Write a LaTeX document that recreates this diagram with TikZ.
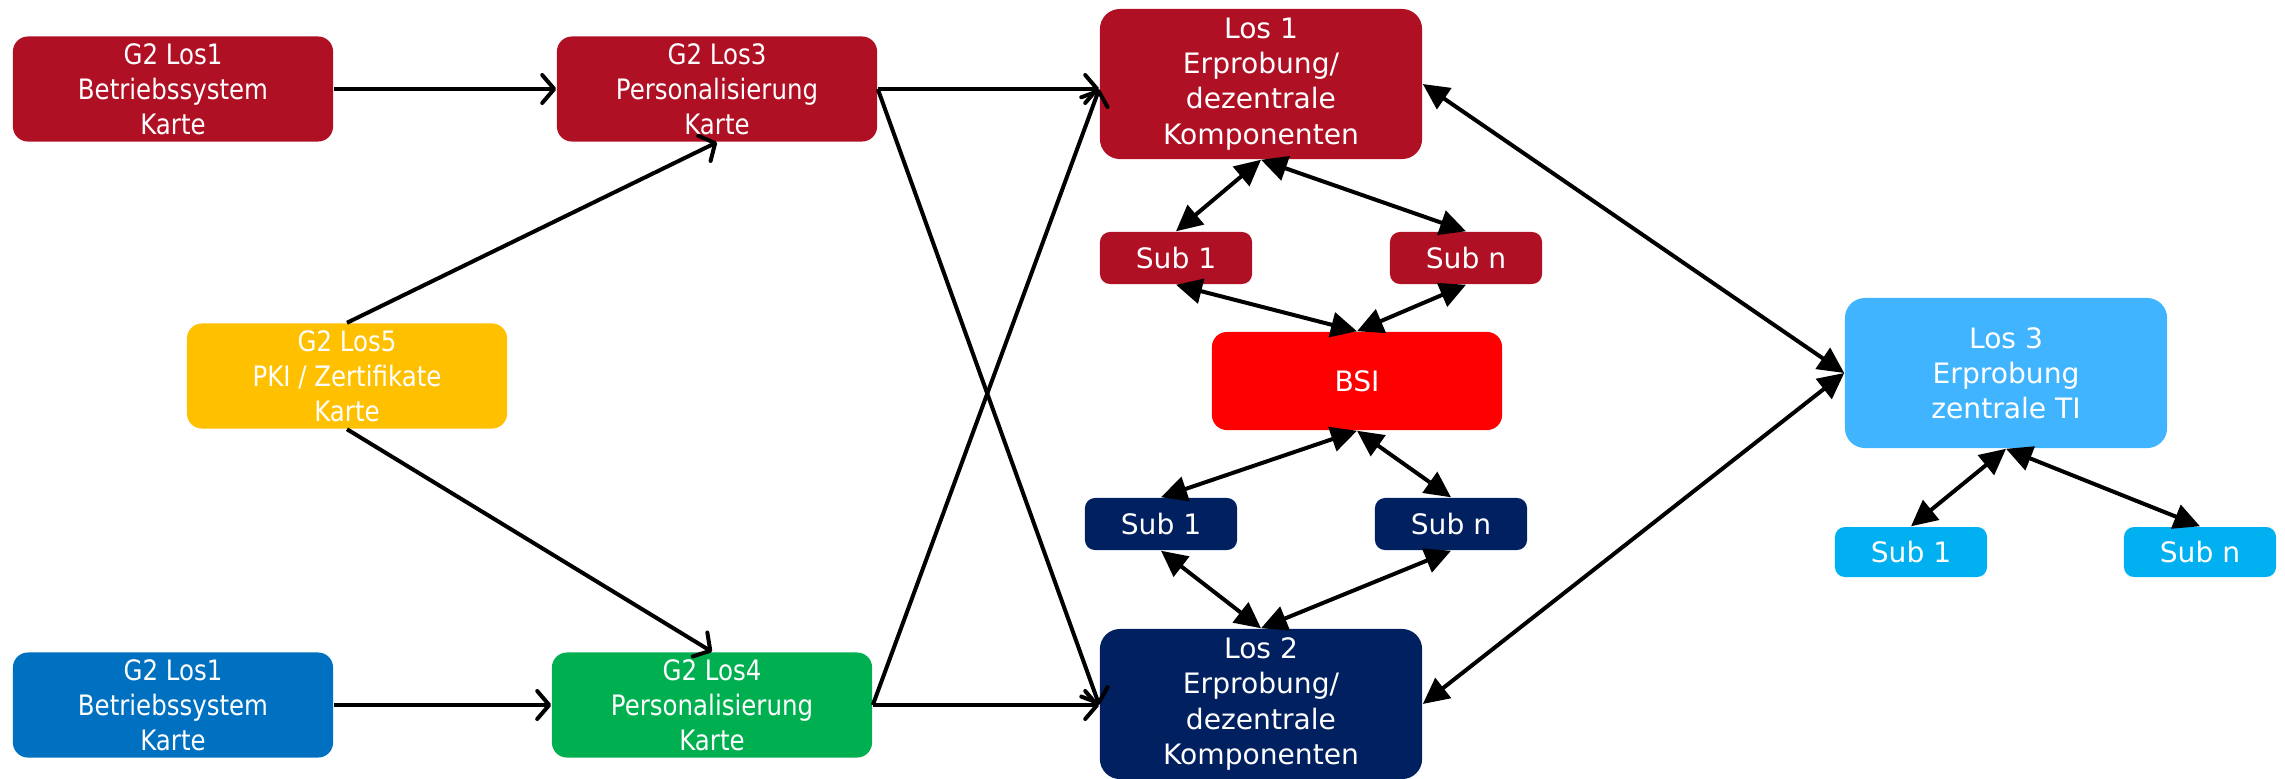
\documentclass[tikz,border=0pt]{standalone}
\usepackage{fontspec}
\setmainfont{DejaVu Sans}
\newfontfamily\narrowfont[FakeStretch=0.87]{DejaVu Sans}
\usetikzlibrary{arrows.meta}

\definecolor{losred}{HTML}{B01024}
\definecolor{losyellow}{HTML}{FFC000}
\definecolor{losblue}{HTML}{0070C0}
\definecolor{losgreen}{HTML}{00B050}
\definecolor{losnavy}{HTML}{002060}
\definecolor{bsired}{HTML}{FF0000}
\definecolor{tiblue}{HTML}{40B4FF}
\definecolor{subblue}{HTML}{00B0F0}

\tikzset{
  kartebox/.style={rounded corners=0.15cm, minimum width=3.2cm, minimum height=1.05cm,
    text=white, align=center, inner sep=0pt, font=\narrowfont\fontsize{8}{10}\selectfont},
  losbox/.style={rounded corners=0.2cm, minimum width=3.22cm, minimum height=1.5cm,
    text=white, align=center, inner sep=0pt, font=\fontsize{8}{10}\selectfont},
  subbox/.style={rounded corners=0.1cm, minimum width=1.52cm, minimum height=0.52cm,
    text=white, inner sep=0pt, font=\fontsize{8}{10}\selectfont},
  flow/.style={-{Straight Barb[length=0.12cm,width=0.28cm,round]}, line width=0.04cm},
  link/.style={{Triangle[length=0.26cm,width=0.25cm]}-{Triangle[length=0.26cm,width=0.25cm]}, line width=0.04cm}
}

\begin{document}
\begin{tikzpicture}[x=0.01cm,y=-0.01cm]
\useasboundingbox (0,0) rectangle (2285,778);

% Karte
\node[kartebox, fill=losred] (g2los1r) at (173,89) {G2 Los1\\Betriebssystem\\Karte};
\node[kartebox, fill=losred] (g2los3) at (717,89) {G2 Los3\\Personalisierung\\Karte};
\node[kartebox, fill=losyellow] (g2los5) at (347,376) {G2 Los5\\PKI / Zertifikate\\Karte};
\node[kartebox, fill=losblue] (g2los1b) at (173,705) {G2 Los1\\Betriebssystem\\Karte};
\node[kartebox, fill=losgreen] (g2los4) at (712,705) {G2 Los4\\Personalisierung\\Karte};

% Erprobung
\node[losbox, fill=losred] (los1) at (1261,84) {Los 1\\Erprobung/\\dezentrale\\Komponenten};
\node[losbox, fill=losnavy] (los2) at (1261,704) {Los 2\\Erprobung/\\dezentrale\\Komponenten};
\node[losbox, fill=tiblue] (los3) at (2006,373) {Los 3\\Erprobung\\zentrale TI};
\node[losbox, fill=bsired, minimum width=2.9cm, minimum height=0.98cm, rounded corners=0.15cm] (bsi) at (1357,381) {BSI};

\node[subbox, fill=losred] (sub1r) at (1176,258) {Sub 1};
\node[subbox, fill=losred] (subnr) at (1466,258) {Sub n};
\node[subbox, fill=losnavy] (sub1b) at (1161,524) {Sub 1};
\node[subbox, fill=losnavy] (subnb) at (1451,524) {Sub n};
\node[subbox, fill=subblue, minimum height=0.5cm] (sub1l) at (1911,552) {Sub 1};
\node[subbox, fill=subblue, minimum height=0.5cm] (subnl) at (2200,552) {Sub n};

\coordinate (in1) at (g2los3.east -| los1.west);
\coordinate (in2) at (g2los4.east -| los2.west);

\draw[flow] (g2los1r) -- (g2los3);
\draw[flow] (g2los1b) -- (g2los4);
\draw[flow] (g2los5.north) -- (g2los3.south);
\draw[flow] (g2los5.south) -- (g2los4.north);
\draw[flow] (g2los3.east) -- (in1);
\draw[flow] (g2los3.east) -- (in2);
\draw[flow] (g2los4.east) -- (in1);
\draw[flow] (g2los4.east) -- (in2);

\draw[link] (los1.south) -- (sub1r.north);
\draw[link] (los1.south) -- (subnr.north);
\draw[link] (sub1r.south) -- (bsi.north);
\draw[link] (subnr.south) -- (bsi.north);
\draw[link] (bsi.south) -- (sub1b.north);
\draw[link] (bsi.south) -- (subnb.north);
\draw[link] (sub1b.south) -- (los2.north);
\draw[link] (subnb.south) -- (los2.north);
\draw[link] (los1.east) -- (los3.west);
\draw[link] (los2.east) -- (los3.west);
\draw[link] (los3.south) -- (sub1l.north);
\draw[link] (los3.south) -- (subnl.north);

\end{tikzpicture}
\end{document}
